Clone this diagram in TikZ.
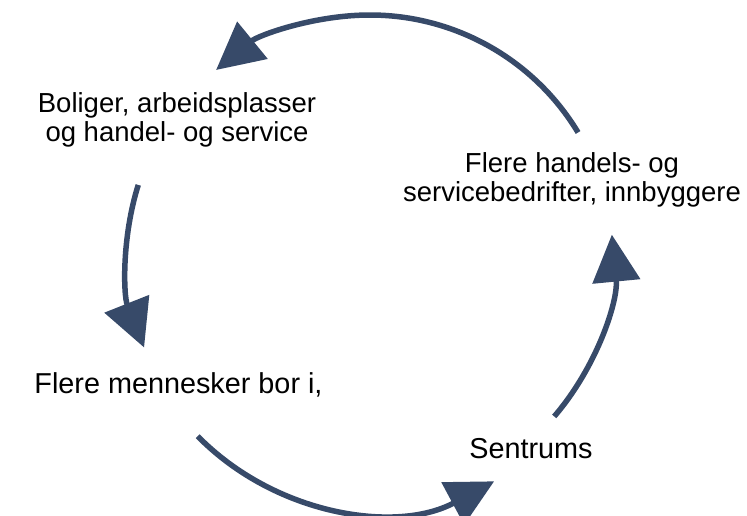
\documentclass[tikz,border=0pt]{standalone}
\usepackage{fontspec}
\setmainfont{Liberation Sans}
\usetikzlibrary{arrows.meta}
\definecolor{arrowblue}{RGB}{55,74,105}
\tikzset{
  cyclearrow/.style={draw=arrowblue, line width=5.5pt, -{Triangle[length=47pt,width=47pt,fill=arrowblue]}},
  lbl/.style={font=\fontsize{27.5}{29.5}\selectfont, align=center, inner sep=0pt, anchor=base, text=black},
  lblbig/.style={lbl, font=\fontsize{28.8}{30}\selectfont}
}
\begin{document}
\begin{tikzpicture}[x=1pt,y=1pt]
\useasboundingbox (0,0) rectangle (747,515);
\coordinate (C) at (370,257);
\coordinate (Cb) at (376,254);
\node[lbl] (bol) at (177,373) {Boliger, arbeidsplasser\\og handel- og service};
\node[lbl] (fle) at (572,313) {Flere handels- og\\servicebedrifter, innbyggere};
\node[lblbig] (men) at (178.5,122) {Flere mennesker bor i,};
\node[lblbig] (sen) at (531,57) {Sentrums};
\draw[cyclearrow] (C) ++(31.1:243) arc[start angle=31.1, end angle=129.3, radius=243];
\draw[cyclearrow] (C) ++(162.5:243) arc[start angle=162.5, end angle=201.6, radius=243];
\draw[cyclearrow] (Cb) ++(224.5:250) arc[start angle=224.5, end angle=298.2, radius=250];
\draw[cyclearrow] (C) ++(-40.7:243) arc[start angle=-40.7, end angle=5.5, radius=243];
\end{tikzpicture}
\end{document}
